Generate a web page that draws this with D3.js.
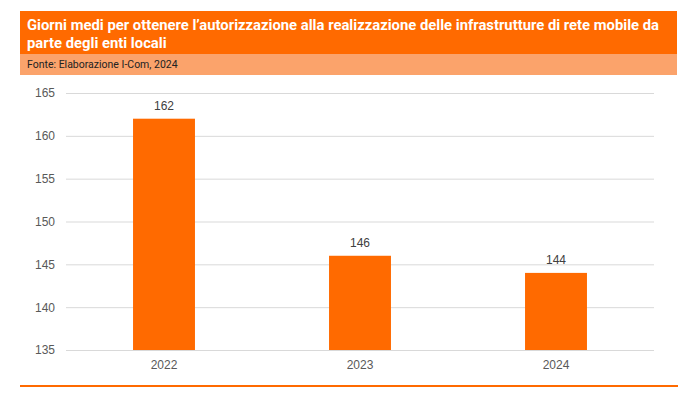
<!DOCTYPE html>
<html>
<head>
<meta charset="utf-8">
<script src="https://cdn.jsdelivr.net/npm/d3@7"></script>
<style>
  body { margin: 0; background: #fff; }
  svg { display: block; }
</style>
</head>
<body>
<svg id="chart" width="696" height="393"></svg>
<script>
// data
var years = ["2022", "2023", "2024"];
var giorni = [162, 146, 144];
var yTicks = [135, 140, 145, 150, 155, 160, 165];

var titleLines = ["Giorni medi per ottenere l\u2019autorizzazione alla realizzazione delle infrastrutture di rete mobile da",
                  "parte degli enti locali"];
var fonte = "Fonte: Elaborazione I-Com, 2024";

var orange = "#ff6a00";

var svg = d3.select("#chart"),
    margin = {top: 93, right: 42, bottom: 43, left: 66},
    width = +svg.attr("width") - margin.left - margin.right,
    height = +svg.attr("height") - margin.top - margin.bottom;

// header
svg.append("rect").attr("x", 20).attr("y", 11).attr("width", 657).attr("height", 43).attr("fill", orange);
svg.append("rect").attr("x", 20).attr("y", 54).attr("width", 657).attr("height", 21).attr("fill", "#fba36b");

svg.selectAll(".title")
    .data(titleLines)
  .enter().append("text")
    .attr("class", "title")
    .attr("x", 27)
    .attr("y", function(d, i) { return 30 + i * 18; })
    .attr("fill", "#fff")
    .style("font-family", "'Roboto', sans-serif")
    .style("font-weight", "bold")
    .style("font-size", "14.8px")
    .text(function(d) { return d; });

svg.append("text")
    .attr("x", 27)
    .attr("y", 68)
    .attr("fill", "#222")
    .style("font-family", "'Roboto', sans-serif")
    .style("font-size", "10.5px")
    .text(fonte);

var g = svg.append("g").attr("transform", "translate(" + margin.left + "," + margin.top + ")");

var x = d3.scaleBand().domain(years).range([0, width]).padding(0);
var y = d3.scaleLinear().domain([135, 165]).range([height, 0]);

// grid + y labels
var yAxis = g.append("g")
    .call(d3.axisLeft(y).tickValues(yTicks).tickSize(-width).tickPadding(11));
yAxis.select(".domain").remove();
yAxis.selectAll(".tick line").attr("stroke", "#d9d9d9").attr("stroke-width", 1);
yAxis.selectAll(".tick text")
    .attr("fill", "#595959")
    .style("font-family", "'Liberation Sans', Arial, sans-serif")
    .style("font-size", "12px");

var barW = x.bandwidth() * 0.316;

g.selectAll(".bar")
    .data(giorni)
  .enter().append("rect")
    .attr("class", "bar")
    .attr("x", function(d, i) { return x(years[i]) + (x.bandwidth() - barW) / 2; })
    .attr("y", function(d) { return y(d); })
    .attr("width", barW)
    .attr("height", function(d) { return height - y(d); })
    .attr("fill", orange);

g.selectAll(".val")
    .data(giorni)
  .enter().append("text")
    .attr("class", "val")
    .attr("x", function(d, i) { return x(years[i]) + x.bandwidth() / 2; })
    .attr("y", function(d) { return y(d) - 9; })
    .attr("text-anchor", "middle")
    .attr("fill", "#404040")
    .style("font-family", "'Liberation Sans', Arial, sans-serif")
    .style("font-size", "12px")
    .text(function(d) { return d; });

var xAxis = g.append("g")
    .attr("transform", "translate(0," + height + ")")
    .call(d3.axisBottom(x).tickSize(0).tickPadding(10));
xAxis.select(".domain").remove();
xAxis.selectAll(".tick text")
    .attr("fill", "#595959")
    .style("font-family", "'Liberation Sans', Arial, sans-serif")
    .style("font-size", "12px");

// bottom rule
svg.append("rect").attr("x", 20).attr("y", 385).attr("width", 658).attr("height", 2).attr("fill", orange);
</script>
</body>
</html>
